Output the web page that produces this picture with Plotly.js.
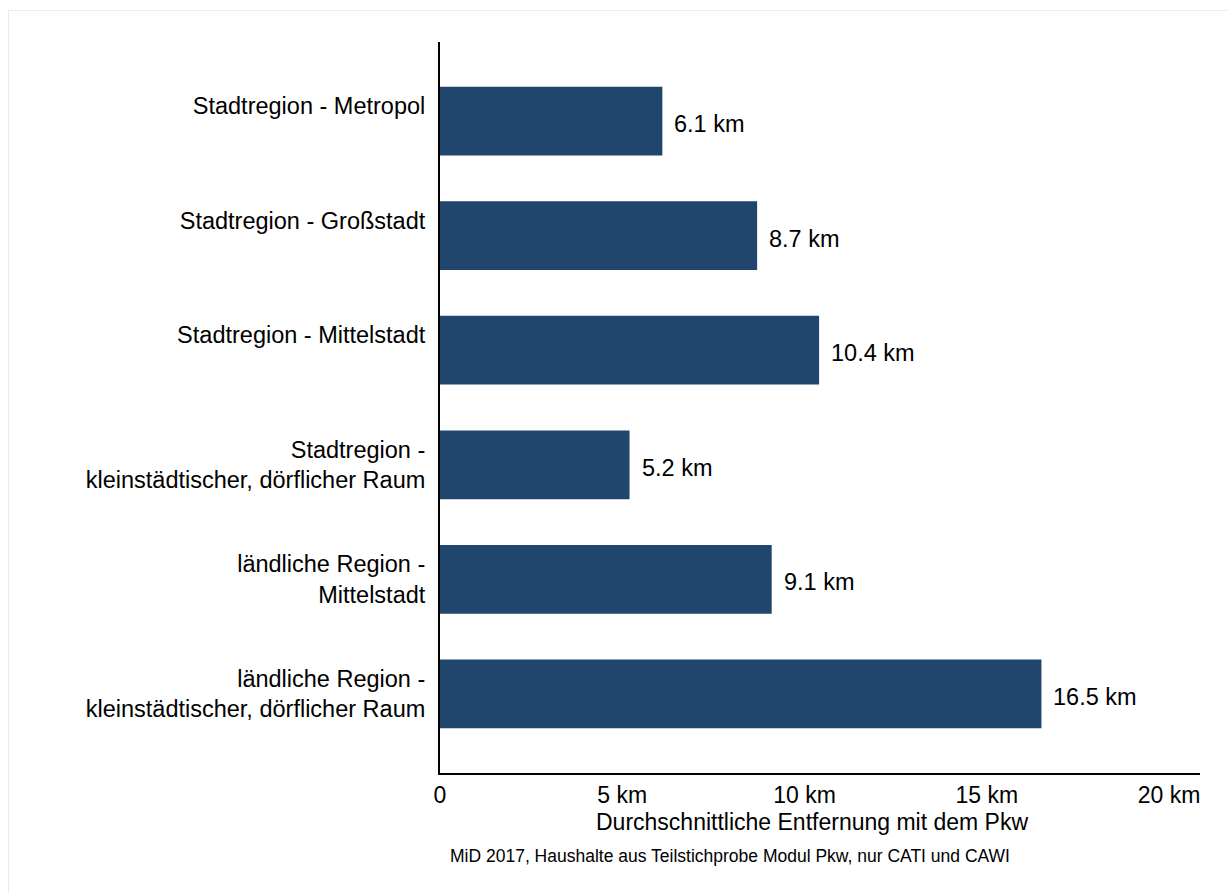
<!DOCTYPE html>
<html>
<head>
<meta charset="utf-8">
<script src="https://cdn.plot.ly/plotly-3.0.1.min.js"></script>
<style>
  html, body { margin: 0; padding: 0; background: #ffffff; }
  #chart { width: 1228px; height: 893px; }
  #frame { position: absolute; left: 8px; top: 10px; width: 1230px; height: 900px;
           border-top: 1px solid #ececec; border-left: 1px solid #ececec; pointer-events: none; }
</style>
</head>
<body>
<div id="chart"></div>
<div id="frame"></div>
<script>
// ---- data ----
const categories = [
  "Stadtregion - Metropol",
  "Stadtregion - Großstadt",
  "Stadtregion - Mittelstadt",
  "Stadtregion -<br>kleinstädtischer, dörflicher Raum",
  "ländliche Region -<br>Mittelstadt",
  "ländliche Region -<br>kleinstädtischer, dörflicher Raum"
];
const values = [6.1, 8.7, 10.4, 5.2, 9.1, 16.5];
const xTickVals = [0, 5, 10, 15, 20];
const xTickText = ["0", "5 km", "10 km", "15 km", "20 km"];
const xTitle = "Durchschnittliche Entfernung mit dem Pkw";
const caption = "MiD 2017, Haushalte aus Teilstichprobe Modul Pkw, nur CATI und CAWI";

// ---- chart ----
const FONT = "Liberation Sans, Arial, Helvetica, sans-serif";
const barColor = "#21466d";

const yTickText = categories.map(c => c.includes("<br>") ? c : c + "<br> ");

const trace = {
  type: "bar",
  orientation: "h",
  x: values,
  y: categories,
  width: 0.6,
  marker: { color: barColor, line: { width: 0 } },
  hoverinfo: "x+y"
};

const valueAnnotations = values.map((v, i) => ({
  x: v, y: categories[i], xref: "x", yref: "y",
  text: v.toFixed(1) + " km",
  showarrow: false, xanchor: "left", yanchor: "middle",
  xshift: 10, yshift: -3,
  font: { family: FONT, size: 23.5, color: "#000000" }
}));

const layout = {
  width: 1228, height: 893,
  margin: { l: 440, r: 28, t: 42, b: 120 },
  paper_bgcolor: "#ffffff",
  plot_bgcolor: "#ffffff",
  showlegend: false,
  font: { family: FONT, size: 23.5, color: "#000000" },
  xaxis: {
    range: [0, 20.85],
    tickvals: xTickVals,
    ticktext: xTickText,
    showgrid: false,
    zeroline: false,
    showline: true,
    linecolor: "#000000",
    linewidth: 2,
    ticks: "",
    ticklabelstandoff: 0,
    tickfont: { family: FONT, size: 23, color: "#000000" },
    fixedrange: true
  },
  yaxis: {
    type: "category",
    range: [5.69, -0.69],
    tickvals: categories,
    ticktext: yTickText,
    showgrid: false,
    zeroline: false,
    showline: true,
    linecolor: "#000000",
    linewidth: 2,
    ticks: "",
    ticklabelstandoff: 8,
    tickfont: { family: FONT, size: 23.5, color: "#000000" },
    fixedrange: true
  },
  annotations: valueAnnotations.concat([
    {
      xref: "paper", yref: "paper", x: 0.4895, y: -0.0465,
      text: xTitle, showarrow: false, xanchor: "center", yanchor: "top",
      font: { family: FONT, size: 23, color: "#000000" }
    },
    {
      xref: "paper", yref: "paper", x: 0.382, y: -0.097,
      text: caption, showarrow: false, xanchor: "center", yanchor: "top",
      font: { family: FONT, size: 17.5, color: "#000000" }
    }
  ])
};

Plotly.newPlot("chart", [trace], layout, { displayModeBar: false, responsive: false });
</script>
</body>
</html>
